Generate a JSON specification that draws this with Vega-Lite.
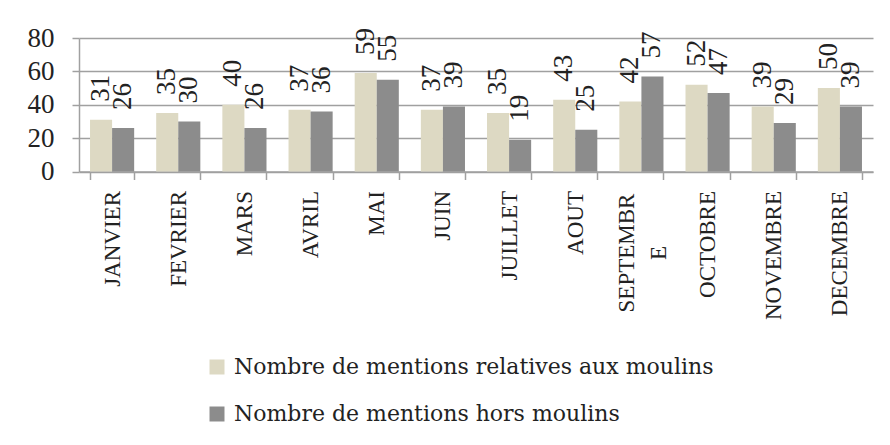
{
  "$schema": "https://vega.github.io/schema/vega-lite/v6.json",
  "autosize": "none",
  "width": 794,
  "height": 133.5,
  "padding": {"left": 79, "top": 38, "right": 17, "bottom": 273},
  "background": "white",
  "config": {
    "view": {"stroke": null},
    "font": "Liberation Serif",
    "text": {"font": "Liberation Serif"}
  },
  "data": {
    "values": [
      {"mois": "JANVIER", "serie": "Nombre de mentions relatives aux moulins", "valeur": 31},
      {"mois": "JANVIER", "serie": "Nombre de mentions hors moulins", "valeur": 26},
      {"mois": "FEVRIER", "serie": "Nombre de mentions relatives aux moulins", "valeur": 35},
      {"mois": "FEVRIER", "serie": "Nombre de mentions hors moulins", "valeur": 30},
      {"mois": "MARS", "serie": "Nombre de mentions relatives aux moulins", "valeur": 40},
      {"mois": "MARS", "serie": "Nombre de mentions hors moulins", "valeur": 26},
      {"mois": "AVRIL", "serie": "Nombre de mentions relatives aux moulins", "valeur": 37},
      {"mois": "AVRIL", "serie": "Nombre de mentions hors moulins", "valeur": 36},
      {"mois": "MAI", "serie": "Nombre de mentions relatives aux moulins", "valeur": 59},
      {"mois": "MAI", "serie": "Nombre de mentions hors moulins", "valeur": 55},
      {"mois": "JUIN", "serie": "Nombre de mentions relatives aux moulins", "valeur": 37},
      {"mois": "JUIN", "serie": "Nombre de mentions hors moulins", "valeur": 39},
      {"mois": "JUILLET", "serie": "Nombre de mentions relatives aux moulins", "valeur": 35},
      {"mois": "JUILLET", "serie": "Nombre de mentions hors moulins", "valeur": 19},
      {"mois": "AOUT", "serie": "Nombre de mentions relatives aux moulins", "valeur": 43},
      {"mois": "AOUT", "serie": "Nombre de mentions hors moulins", "valeur": 25},
      {"mois": "SEPTEMBRE", "serie": "Nombre de mentions relatives aux moulins", "valeur": 42},
      {"mois": "SEPTEMBRE", "serie": "Nombre de mentions hors moulins", "valeur": 57},
      {"mois": "OCTOBRE", "serie": "Nombre de mentions relatives aux moulins", "valeur": 52},
      {"mois": "OCTOBRE", "serie": "Nombre de mentions hors moulins", "valeur": 47},
      {"mois": "NOVEMBRE", "serie": "Nombre de mentions relatives aux moulins", "valeur": 39},
      {"mois": "NOVEMBRE", "serie": "Nombre de mentions hors moulins", "valeur": 29},
      {"mois": "DECEMBRE", "serie": "Nombre de mentions relatives aux moulins", "valeur": 50},
      {"mois": "DECEMBRE", "serie": "Nombre de mentions hors moulins", "valeur": 39}
    ]
  },
  "encoding": {
    "x": {
      "field": "mois",
      "type": "nominal",
      "sort": null,
      "scale": {"paddingInner": 0.333, "paddingOuter": 0.1667},
      "axis": {
        "title": null,
        "labelAngle": -90,
        "labelAlign": {"condition": {"test": "datum.value == 'SEPTEMBRE'", "value": "center"}, "value": "right"},
        "labelBaseline": "middle",
        "labelFont": "Liberation Serif",
        "labelFontSize": 23,
        "labelColor": "#222222",
        "labelPadding": {"condition": {"test": "datum.value == 'SEPTEMBRE'", "value": 73}, "value": 11},
        "labelExpr": "datum.label == 'SEPTEMBRE' ? ['SEPTEMBR', 'E'] : datum.label",
        "labelLineHeight": 32,
        "labelOffset": {"condition": {"test": "datum.value == 'SEPTEMBRE'", "value": -15}, "value": 0},
        "tickBand": "extent",
        "tickSize": 8,
        "tickColor": "#A0A0A0",
        "tickWidth": 1.5,
        "domainColor": "#A0A0A0",
        "domainWidth": 1.5,
        "grid": false,
        "labelOverlap": false
      }
    },
    "xOffset": {
      "field": "serie",
      "type": "nominal",
      "sort": ["Nombre de mentions relatives aux moulins", "Nombre de mentions hors moulins"],
      "scale": {"paddingInner": 0, "paddingOuter": 0}
    },
    "y": {
      "field": "valeur",
      "type": "quantitative",
      "scale": {"domain": [0, 80], "nice": false},
      "axis": {
        "title": null,
        "values": [0, 20, 40, 60, 80],
        "labelFont": "Liberation Serif",
        "labelFontSize": 27,
        "labelColor": "#222222",
        "labelPadding": 18,
        "tickSize": 7,
        "tickColor": "#A0A0A0",
        "tickWidth": 1.5,
        "domainColor": "#A0A0A0",
        "domainWidth": 1.5,
        "gridColor": "#A0A0A0",
        "gridWidth": 1.5
      }
    }
  },
  "layer": [
    {
      "mark": {"type": "bar"},
      "encoding": {
        "color": {
          "field": "serie",
          "type": "nominal",
          "sort": ["Nombre de mentions relatives aux moulins", "Nombre de mentions hors moulins"],
          "scale": {
            "domain": ["Nombre de mentions relatives aux moulins", "Nombre de mentions hors moulins"],
            "range": ["#DDD9C3", "#8C8C8C"]
          },
          "legend": {
            "title": null,
            "orient": "none",
            "legendX": 127,
            "legendY": 318,
            "direction": "vertical",
            "symbolType": "square",
            "symbolSize": 225,
            "symbolStrokeWidth": 0,
            "labelFont": "DejaVu Serif",
            "labelFontSize": 22,
            "labelColor": "#222222",
            "labelOffset": 6,
            "rowPadding": 25,
            "labelLimit": 0
          }
        }
      }
    },
    {
      "mark": {
        "type": "text",
        "angle": -90,
        "align": "left",
        "baseline": "middle",
        "dx": 18,
        "font": "Liberation Serif",
        "fontSize": 27,
        "color": "#222222"
      },
      "encoding": {
        "text": {"field": "valeur", "type": "quantitative"}
      }
    }
  ]
}
